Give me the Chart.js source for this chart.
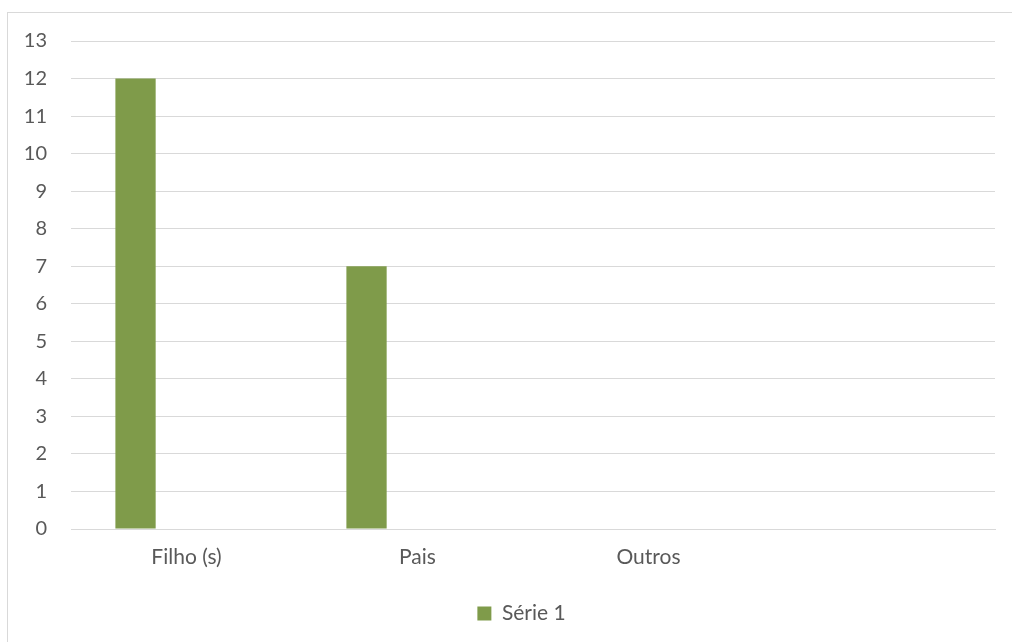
<!DOCTYPE html>
<html>
<head>
<meta charset="utf-8">
<script src="https://cdn.jsdelivr.net/npm/chart.js@4"></script>
<style>
  html, body { margin: 0; padding: 0; background: #fff; overflow: hidden; }
  #wrap { position: relative; width: 1012px; height: 642px; }
  #frame { position: absolute; left: 7px; top: 12px; width: 1040px; height: 660px; border: 1px solid #d9d9d9; box-sizing: border-box; }
  canvas { position: absolute; left: 0; top: 0; }
</style>
</head>
<body>
<div id="wrap">
  <div id="frame"></div>
  <canvas id="mainChart" width="1012" height="642"></canvas>
</div>
<script>
// Data
const categories = ['Filho (s)', 'Pais', 'Outros', ''];
const serie1 = [12, 7, 0, null];
const serie2 = [null, null, null, null];
const serie3 = [null, null, null, null];
const yTicks = [0, 1, 2, 3, 4, 5, 6, 7, 8, 9, 10, 11, 12, 13];

const textColor = '#595959';
const gridColor = '#d9d9d9';
const barColor = '#7f9b4a';
const fontFamily = 'Lato';

// nudge the legend a bit right, like the original
const legendShift = {
    id: 'legendShift',
    afterLayout(chart) {
        chart.legend.left += 24;
        chart.legend.right += 24;
    }
};

function createChart() {
    const ctx = document.getElementById('mainChart').getContext('2d');
    const barOpts = {
        categoryPercentage: 0.662,
        barPercentage: 0.79,
        borderWidth: 0
    };
    return new Chart(ctx, {
        type: 'bar',
        data: {
            labels: categories,
            datasets: [
                Object.assign({ label: 'Série 1', data: serie1, backgroundColor: barColor }, barOpts),
                Object.assign({ label: 'Série 2', data: serie2, backgroundColor: '#a5a5a5' }, barOpts),
                Object.assign({ label: 'Série 3', data: serie3, backgroundColor: '#ffc000' }, barOpts)
            ]
        },
        plugins: [legendShift],
        options: {
            responsive: false,
            animation: false,
            layout: {
                padding: { left: 0, right: 17, top: 41, bottom: 8 }
            },
            plugins: {
                legend: {
                    position: 'bottom',
                    labels: {
                        color: textColor,
                        font: { family: fontFamily, size: 21 },
                        boxWidth: 14,
                        boxHeight: 14,
                        padding: 10,
                        filter: item => item.datasetIndex === 0
                    }
                },
                tooltip: { enabled: false }
            },
            scales: {
                x: {
                    grid: { display: false, drawTicks: false },
                    border: { color: gridColor, width: 1 },
                    ticks: {
                        color: textColor,
                        font: { family: fontFamily, size: 21 },
                        padding: 16,
                        maxRotation: 0
                    },
                    afterFit: scale => { scale.height = 64; }
                },
                y: {
                    min: 0,
                    max: 13,
                    afterBuildTicks: scale => { scale.ticks = yTicks.map(v => ({ value: v })); },
                    grid: { color: gridColor, lineWidth: 1, drawTicks: false },
                    border: { display: false },
                    ticks: {
                        color: textColor,
                        font: { family: fontFamily, size: 20 },
                        padding: 24
                    },
                    afterFit: scale => { scale.width = 71; }
                }
            }
        }
    });
}

document.addEventListener('DOMContentLoaded', function() {
    createChart();
});
</script>
</body>
</html>
